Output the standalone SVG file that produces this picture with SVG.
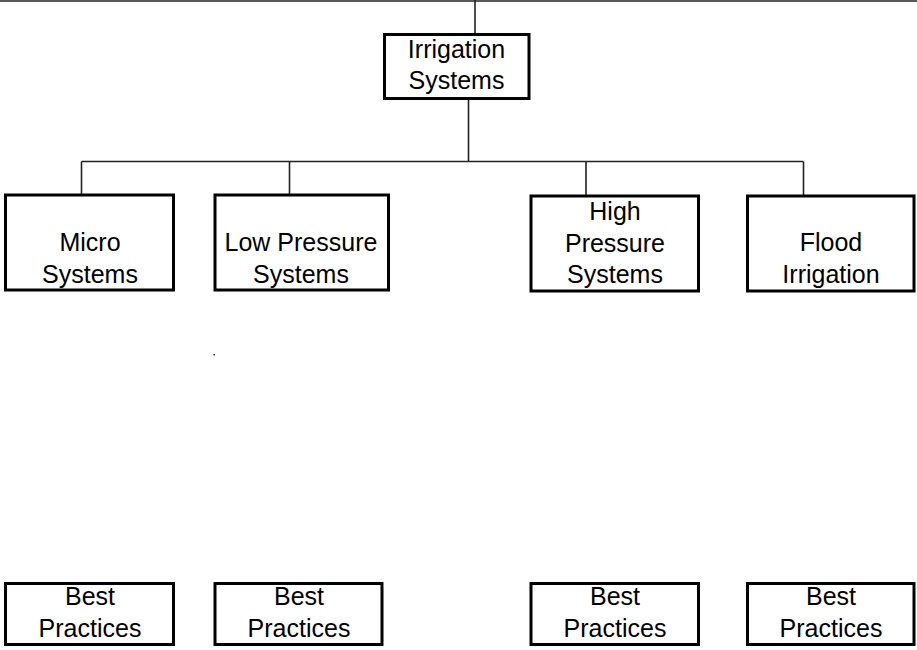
<svg xmlns="http://www.w3.org/2000/svg" width="917" height="650" viewBox="0 0 917 650">
  <style>
    .box { fill: #ffffff; stroke: #000000; stroke-width: 3; }
    .wire { fill: none; stroke: #222222; stroke-width: 1.6; }
    .lbl { font-family: "Liberation Sans", Arial, sans-serif; font-size: 25px; fill: #000000; text-anchor: middle; }
  </style>
  <rect width="917" height="650" fill="#ffffff"/>

  <!-- connectors -->
  <g id="connectors">
    <path class="wire" d="M0 1 H917"/>
    <path class="wire" d="M475 0 V34"/>
    <path class="wire" d="M468.5 98 V161.5"/>
    <path class="wire" d="M81.5 161.5 H803.5"/>
    <path class="wire" d="M81.5 161.5 V195"/>
    <path class="wire" d="M289.5 161.5 V195"/>
    <path class="wire" d="M586 161.5 V196"/>
    <path class="wire" d="M803.5 161.5 V196"/>
  </g>

  <!-- root -->
  <g id="irrigation-systems">
    <rect class="box" x="384.5" y="34.5" width="144.5" height="64"/>
    <text class="lbl" x="456.5" y="58">Irrigation</text>
    <text class="lbl" x="456.5" y="89">Systems</text>
  </g>

  <!-- system types -->
  <g id="micro-systems">
    <rect class="box" x="5.5" y="195" width="168" height="95"/>
    <text class="lbl" x="90" y="251">Micro</text>
    <text class="lbl" x="90" y="283">Systems</text>
  </g>
  <g id="low-pressure-systems">
    <rect class="box" x="215" y="195" width="173.5" height="95"/>
    <text class="lbl" x="301" y="251">Low Pressure</text>
    <text class="lbl" x="301" y="283">Systems</text>
  </g>
  <g id="high-pressure-systems">
    <rect class="box" x="531" y="196" width="167.5" height="95"/>
    <text class="lbl" x="615" y="220">High</text>
    <text class="lbl" x="615" y="252">Pressure</text>
    <text class="lbl" x="615" y="283">Systems</text>
  </g>
  <g id="flood-irrigation">
    <rect class="box" x="747.5" y="196" width="166.5" height="95"/>
    <text class="lbl" x="831" y="251">Flood</text>
    <text class="lbl" x="831" y="283">Irrigation</text>
  </g>

  <!-- stray mark -->
  <rect x="213.5" y="354" width="1.5" height="1.5" fill="#222222"/>

  <!-- best practices -->
  <g id="best-practices-1">
    <rect class="box" x="5.5" y="583.5" width="168" height="61"/>
    <text class="lbl" x="90" y="605">Best</text>
    <text class="lbl" x="90" y="637">Practices</text>
  </g>
  <g id="best-practices-2">
    <rect class="box" x="215" y="583.5" width="167" height="61"/>
    <text class="lbl" x="299" y="605">Best</text>
    <text class="lbl" x="299" y="637">Practices</text>
  </g>
  <g id="best-practices-3">
    <rect class="box" x="531" y="583.5" width="167.5" height="61"/>
    <text class="lbl" x="615" y="605">Best</text>
    <text class="lbl" x="615" y="637">Practices</text>
  </g>
  <g id="best-practices-4">
    <rect class="box" x="747.5" y="583.5" width="166.5" height="61"/>
    <text class="lbl" x="831" y="605">Best</text>
    <text class="lbl" x="831" y="637">Practices</text>
  </g>
</svg>
